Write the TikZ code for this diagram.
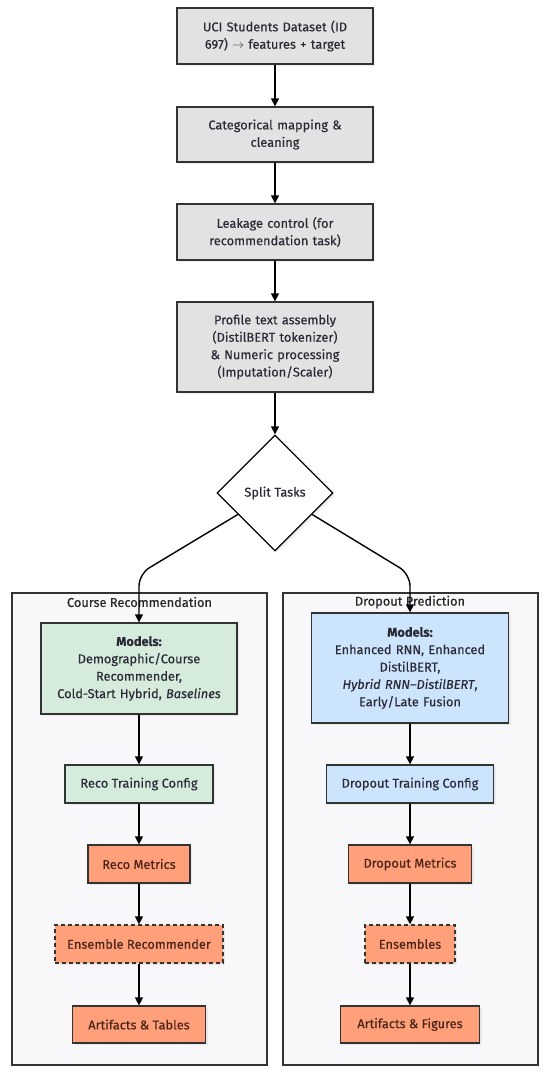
\documentclass[tikz,border=0pt]{standalone}
\usepackage{fontspec}
\setmainfont{Fira Sans}[FakeBold=0.25]
\usetikzlibrary{shapes.geometric,arrows.meta,shadows}
\definecolor{grayfill}{HTML}{E2E2E2}
\definecolor{greenfill}{HTML}{D5EBDC}
\definecolor{bluefill}{HTML}{CCE4FC}
\definecolor{orangefill}{HTML}{FFA07A}
\definecolor{clusterfill}{HTML}{F8F8FB}
\definecolor{edgecol}{HTML}{333333}
\definecolor{txt}{HTML}{2A2A36}
\definecolor{otxt}{HTML}{4A2418}
\tikzset{
  base/.style={draw=edgecol, line width=1.3pt, align=center, inner sep=2pt, font=\fontsize{12.8}{17.4}\selectfont, text=txt,
    drop shadow={opacity=0.12, shadow xshift=2pt, shadow yshift=-2pt}},
  graybox/.style={base, fill=grayfill, minimum width=196pt, text width=190pt},
  greenbox/.style={base, fill=greenfill},
  bluebox/.style={base, fill=bluefill},
  orangebox/.style={base, fill=orangefill, text=otxt},
  dashbox/.style={orangebox, dash pattern=on 4pt off 3pt},
  cluster/.style={draw=edgecol, line width=1.2pt, fill=clusterfill},
  ctitle/.style={font=\fontsize{12.8}{15}\selectfont, text=black!85},
  arr/.style={draw=black, line width=1.4pt, -{Triangle[width=8pt,length=8pt]}},
}
\begin{document}
\begin{tikzpicture}[x=1pt,y=-1pt]
\useasboundingbox (0,0) rectangle (550,1076);
\fill[white] (0,0) rectangle (550,1076);
% clusters
\draw[cluster] (12,593) rectangle (267,1065);
\draw[cluster] (283,593) rectangle (538,1065);
\node[ctitle] (tl) at (139.5,602) {Course Recommendation};
\node[ctitle] (tr) at (410,602) {Dropout Prediction};
% top chain
\node[graybox, minimum height=56pt] (a) at (275,36) {UCI Students Dataset (ID\\697) $\rightarrow$ features + target};
\node[graybox, minimum height=55pt] (b) at (275,134.5) {Categorical mapping \&\\cleaning};
\node[graybox, minimum height=56pt] (c) at (275,232) {Leakage control (for\\recommendation task)};
\node[graybox, minimum height=90pt] (d) at (275,347) {Profile text assembly\\(DistilBERT tokenizer)\\\& Numeric processing\\(Imputation/Scaler)};
\node[draw=black, line width=1.3pt, fill=white, diamond, minimum width=116pt, minimum height=116pt, inner sep=0pt,
  font=\fontsize{12.8}{15}\selectfont, text=txt, drop shadow={opacity=0.12, shadow xshift=2pt, shadow yshift=-2pt}] (s) at (275,493) {Split Tasks};
% left
\node[greenbox, minimum width=196pt, minimum height=91pt, text width=190pt] (l1) at (139,668.5) {\textbf{Models:}\\Demographic/Course\\Recommender,\\Cold-Start Hybrid, \textit{Baselines}};
\node[greenbox, minimum width=148pt, minimum height=38pt] (l2) at (139,784) {Reco Training Config};
\node[orangebox, minimum width=102pt, minimum height=38pt] (l3) at (139,864) {Reco Metrics};
\node[dashbox, minimum width=168pt, minimum height=38pt] (l4) at (139,944) {Ensemble Recommender};
\node[orangebox, minimum width=133pt, minimum height=37pt] (l5) at (139,1024.5) {Artifacts \& Tables};
% right
\node[bluebox, minimum width=197pt, minimum height=110pt, text width=190pt] (r1) at (410,668) {\textbf{Models:}\\Enhanced RNN, Enhanced\\DistilBERT,\\\textit{Hybrid RNN–DistilBERT},\\Early/Late Fusion};
\node[bluebox, minimum width=167pt, minimum height=38pt] (r2) at (410,784) {Dropout Training Config};
\node[orangebox, minimum width=123pt, minimum height=38pt] (r3) at (410,864) {Dropout Metrics};
\node[dashbox, minimum width=90pt, minimum height=38pt] (r4) at (410,944) {Ensembles};
\node[orangebox, minimum width=139pt, minimum height=37pt] (r5) at (410,1024.5) {Artifacts \& Figures};
% edges
\draw[arr] (a) -- (b);
\draw[arr] (b) -- (c);
\draw[arr] (c) -- (d);
\draw[arr] (d) -- (s);
\coordinate (lb) at (139,574);
\coordinate (rb) at (410,574);
\draw[arr, rounded corners=12pt] (s.210) -- (lb) -- (l1.north);
\draw[arr, rounded corners=12pt] (s.-30) -- (rb) -- (r1.north);
\draw[arr] (l1) -- (l2);
\draw[arr] (l2) -- (l3);
\draw[arr] (l3) -- (l4);
\draw[arr] (l4) -- (l5);
\draw[arr] (r1) -- (r2);
\draw[arr] (r2) -- (r3);
\draw[arr] (r3) -- (r4);
\draw[arr] (r4) -- (r5);
\end{tikzpicture}
\end{document}
